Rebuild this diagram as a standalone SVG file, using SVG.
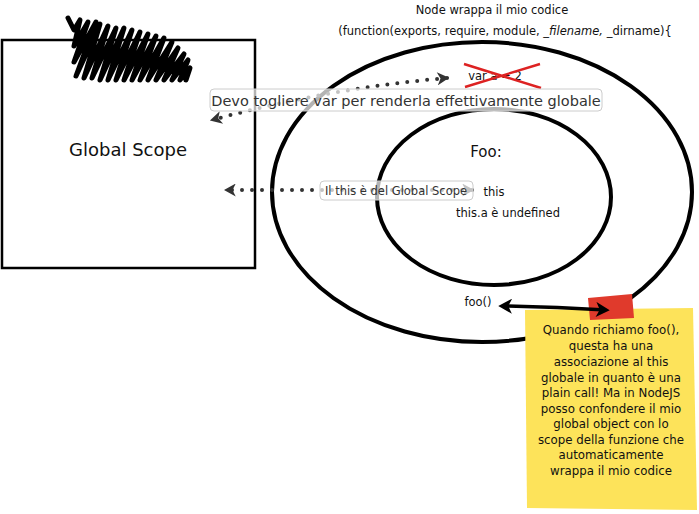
<svg xmlns="http://www.w3.org/2000/svg" width="699" height="514" viewBox="0 0 699 514">
<defs>
<style>
text{font-family:"DejaVu Sans","Liberation Sans",Arial,sans-serif;fill:#111}
.shape{fill:none;stroke:#000}
.dots{fill:none;stroke:#333;stroke-width:4;stroke-linecap:round;stroke-dasharray:0 10}
.lbl{fill:#fff;fill-opacity:0.7;stroke:#ccc;stroke-width:1}
.ltxt{fill:#333}
.sticky{font-size:11.8px;text-anchor:middle}
</style>
<marker id="ah" viewBox="0 0 12 12" refX="10" refY="6" markerWidth="13" markerHeight="13" orient="auto-start-reverse" markerUnits="userSpaceOnUse">
<path d="M12,6 L1,0 L4,6 L1,12 Z" fill="#333"/>
</marker>
<marker id="bh" viewBox="0 0 12 12" refX="9" refY="6" markerWidth="15" markerHeight="15" orient="auto-start-reverse" markerUnits="userSpaceOnUse">
<path d="M12,6 L1,0 L4,6 L1,12 Z" fill="#000"/>
</marker>
</defs>

<g id="global-scope">
<rect x="2" y="40" width="253" height="228" class="shape" stroke-width="2.5"/>
<path d="M68,18 L74,30 L80,20 L74,46 L88,22 L74,62 L96,22 L76,76 L100,24 L84,78 L108,26 L92,78 L116,28 L100,80 L124,28 L108,80 L132,30 L116,80 L140,32 L124,80 L148,34 L132,80 L156,36 L140,80 L164,38 L148,80 L172,42 L156,80 L178,48 L164,80 L184,54 L172,80 L188,60 L180,80 L190,68 L186,80" fill="none" stroke="#000" stroke-width="5" stroke-linecap="round" stroke-linejoin="round"/>
<text x="128" y="156" font-size="18" text-anchor="middle">Global Scope</text>
</g>

<g id="outer-scope">
<ellipse cx="482" cy="192" rx="210" ry="150" class="shape" stroke-width="4"/>
<text x="492" y="14" font-size="11.5" text-anchor="middle">Node wrappa il mio codice</text>
<text x="505" y="35" font-size="11.5" text-anchor="middle">(function(exports, require, module, _<tspan font-style="italic">filename,</tspan> _dirname){</text>
</g>

<g id="var-a">
<text x="495" y="80" font-size="11.5" text-anchor="middle">var a = 2</text>
<path d="M464,64 L541,88 M465,87 L540,64" stroke="#d22" stroke-width="2.5" fill="none"/>
</g>

<g id="foo-scope">
<ellipse cx="494" cy="197" rx="117" ry="88" class="shape" stroke-width="4"/>
<text x="486" y="157" font-size="15" text-anchor="middle">Foo:</text>
<text x="494" y="196" font-size="11.5" text-anchor="middle">this</text>
<text x="508" y="217" font-size="11.5" text-anchor="middle">this.a è undefined</text>
</g>

<g id="foo-call">
<text x="478" y="306" font-size="11.5" text-anchor="middle">foo()</text>
</g>

<g id="sticky-note">
<path d="M525,310 L693,308 L697,510 L527,508 Z" fill="#fde35a"/>
<path d="M588,298 L632,294 L634,318 L590,320 Z" fill="#e03a2c"/>
<text class="sticky" x="611" y="334">Quando richiamo foo(),</text>
<text class="sticky" x="611" y="350">questa ha una</text>
<text class="sticky" x="611" y="366">associazione al this</text>
<text class="sticky" x="611" y="382">globale in quanto è una</text>
<text class="sticky" x="611" y="397">plain call! Ma in NodeJS</text>
<text class="sticky" x="611" y="413">posso confondere il mio</text>
<text class="sticky" x="611" y="428">global object con lo</text>
<text class="sticky" x="611" y="444">scope della funzione che</text>
<text class="sticky" x="611" y="459">automaticamente</text>
<text class="sticky" x="611" y="475">wrappa il mio codice</text>
</g>

<g id="connectors">
<path d="M447,78 Q330,88 212,120" class="dots" marker-start="url(#ah)" marker-end="url(#ah)"/>
<path d="M472,190 L226,190" class="dots" marker-start="url(#ah)" marker-end="url(#ah)"/>
<path d="M502,306 Q555,307 606,310" fill="none" stroke="#000" stroke-width="3.5" marker-start="url(#bh)" marker-end="url(#bh)"/>
</g>

<g id="label-devo">
<rect x="210" y="89" width="392" height="22" rx="4" class="lbl"/>
<text x="406" y="106" font-size="14.5" text-anchor="middle" class="ltxt">Devo togliere var per renderla effettivamente globale</text>
</g>

<g id="label-this">
<rect x="320" y="181" width="153" height="19" rx="4" class="lbl"/>
<text x="396" y="195" font-size="11.5" text-anchor="middle" class="ltxt">Il this è del Global Scope</text>
</g>
</svg>
